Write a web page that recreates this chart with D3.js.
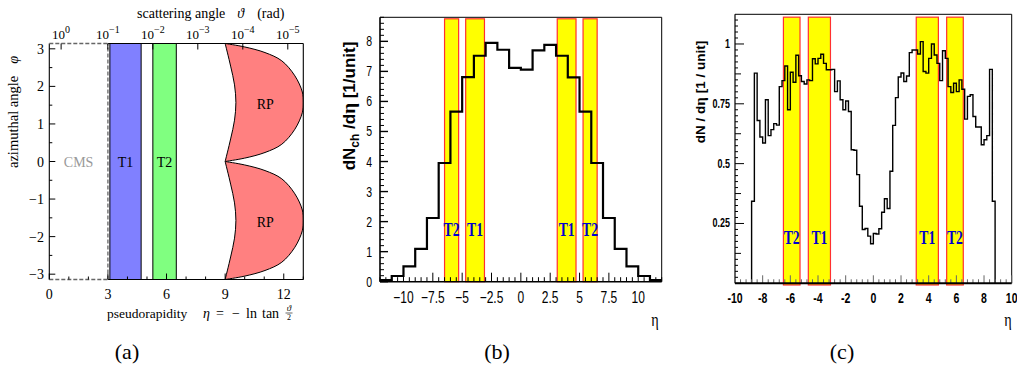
<!DOCTYPE html>
<html><head><meta charset="utf-8">
<script src="https://cdn.jsdelivr.net/npm/d3@7"></script>
<style>body{margin:0;background:#fff}svg{display:block}</style>
</head><body>
<svg id="fig" width="1017" height="369"></svg>
<script>
// ================= DATA =================
// panel (a): detector acceptance
const detNames = ["CMS", "T1", "T2"];
const detEtaLo = [0, 3.1, 5.3];
const detEtaHi = [3, 4.7, 6.5];
const rpRightEta = [9.0, 10.0, 11.04, 11.9, 12.57, 12.95, 13.0, 12.95, 12.57, 11.9, 11.04, 10.0, 9.0];
const rpRightPhi = [3.1416, 3.05, 2.9, 2.68, 2.28, 1.85, 1.57, 1.3, 0.86, 0.46, 0.24, 0.09, 0];
const rpLeftEta = [9.0, 9.28, 9.48, 9.55, 9.48, 9.28, 9.0];
const rpLeftPhi = [0, 0.6, 1.1, 1.57, 2.04, 2.54, 3.1416];
const thetaTicks = [1, 0.1, 0.01, 0.001, 0.0001, 0.00001];
const thetaTickExp = ["0", "−1", "−2", "−3", "−4", "−5"];
const etaTicksA = [0, 3, 6, 9, 12];
const phiTicksA = [-3, -2, -1, 0, 1, 2, 3];

// panels (b),(c): T1/T2 bands
const bandLabels = ["T2", "T1", "T1", "T2"];
const bandLo = [-6.5, -4.7, 3.1, 5.3];
const bandHi = [-5.3, -3.1, 4.7, 6.5];

// panel (b): dNch/deta, unit bins from -12
const binStartB = -12, binWidthB = 1;
const dNdEtaB = [0.05, 0.19, 0.51, 1.09, 2.12, 3.95, 5.66, 6.81, 7.52, 7.95, 7.72, 7.12,
                 7.06, 7.70, 7.88, 7.52, 6.80, 5.66, 3.95, 2.12, 1.09, 0.51, 0.19, 0.05];
const xTicksB = [-10, -7.5, -5, -2.5, 0, 2.5, 5, 7.5, 10];
const yTicksB = [0, 1, 2, 3, 4, 5, 6, 7, 8];

// panel (c): dN/deta, 0.2 bins from -8.8
const binStartC = -8.8, binWidthC = 0.2;
const dNdEtaC = [
  0.343, 0.878, 0.68, 0.611, 0.586, 0.767, 0.617, 0.642, 0.667, 0.661,
  0.822, 0.847, 0.908, 0.725, 0.882, 0.840, 0.953, 0.867, 0.843, 0.833,
  0.85, 0.847, 0.938, 0.917, 0.940, 0.957, 0.919, 0.892, 0.892, 0.894,
  0.801, 0.846, 0.767, 0.725, 0.762, 0.718, 0.558, 0.556, 0.454, 0.322,
  0.225, 0.229, 0.197, 0.165,
  0.208, 0.206, 0.228, 0.297, 0.353, 0.3125, 0.468, 0.66, 0.776, 0.862,
  0.879, 0.843, 0.866, 0.964, 0.975, 0.975, 0.958, 1.010, 0.885, 0.878,
  0.94, 1.0, 0.954, 0.919, 0.847, 0.972, 0.94, 0.822, 0.797, 0.836,
  0.801, 0.85, 0.811, 0.686, 0.781, 0.788, 0.697, 0.653, 0.653, 0.579,
  0.60, 0.617, 0.894, 0.343];
const xTicksC = [-10, -8, -6, -4, -2, 0, 2, 4, 6, 8, 10];
const yTicksC = [0.25, 0.5, 0.75, 1];
const yTickLabelsC = ["0.25", "0.5", "0.75", "1"];

const captions = ["(a)", "(b)", "(c)"];

// ================= DRAW =================
const svg = d3.select("#fig");
const SERIF = "'Liberation Serif', 'DejaVu Serif', serif";
const SANS = "'Liberation Sans', Arial, sans-serif";

function txt(g, x, y, s, o = {}) {
  const t = g.append("text")
    .attr("transform", `translate(${x},${y}) rotate(${o.rot || 0}) scale(${o.sx || 1},1)`)
    .attr("text-anchor", o.anchor || "middle")
    .attr("font-family", o.font || SERIF)
    .attr("font-size", o.size || 14)
    .attr("font-weight", o.weight || "normal")
    .attr("font-style", o.style || "normal")
    .attr("fill", o.fill || "#000");
  if (typeof s === "string") t.text(s); else s(t);
  return t;
}
function hline(g, x1, x2, y, w = 1, c = "#000", dash = null) {
  const l = g.append("line").attr("x1", x1).attr("x2", x2).attr("y1", y).attr("y2", y)
    .attr("stroke", c).attr("stroke-width", w);
  if (dash) l.attr("stroke-dasharray", dash);
  return l;
}
function vline(g, x, y1, y2, w = 1, c = "#000", dash = null) {
  const l = g.append("line").attr("x1", x).attr("x2", x).attr("y1", y1).attr("y2", y2)
    .attr("stroke", c).attr("stroke-width", w);
  if (dash) l.attr("stroke-dasharray", dash);
  return l;
}

// ---------- panel (a) ----------
{
  const xA = d3.scaleLinear().domain([0, 13]).range([49.3, 303.3]);
  const yA = d3.scaleLinear().domain([-Math.PI, Math.PI]).range([279.5, 43.5]);
  const g = svg.append("g");
  const detFill = [null, "#8080ff", "#80ff80"];
  const [x0, x1] = xA.range(), [y0, y1] = yA.range();

  svg.append("defs").append("clipPath").attr("id", "clipA").append("rect")
    .attr("x", x0).attr("y", y1).attr("width", x1 - x0).attr("height", y0 - y1);

  detNames.forEach((n, i) => {
    if (i === 0) return;
    g.append("rect").attr("x", xA(detEtaLo[i])).attr("y", yA(Math.PI))
      .attr("width", xA(detEtaHi[i]) - xA(detEtaLo[i]))
      .attr("height", yA(-Math.PI) - yA(Math.PI))
      .attr("fill", detFill[i]).attr("stroke", "#000").attr("stroke-width", 1);
  });

  const line = d3.line().x(d => xA(d[0])).y(d => yA(d[1])).curve(d3.curveCatmullRom.alpha(0.5));
  [0, -Math.PI].forEach(off => {
    const r = rpRightEta.map((e, i) => [e, rpRightPhi[i] + off]);
    const l = rpLeftEta.map((e, i) => [e, rpLeftPhi[i] + off]);
    const d = line(r) + line(l).replace(/^M/, "L") + "Z";
    g.append("path").attr("d", d).attr("fill", "#ff8080").attr("stroke", "#000")
      .attr("stroke-width", 1).attr("clip-path", "url(#clipA)");
  });

  // frame
  vline(g, x0, y0, y1, 1.1);
  vline(g, x1, y0, y1, 1.1);
  hline(g, xA(detEtaHi[0]), x1, y1, 1.1);
  hline(g, xA(detEtaHi[0]), x1, y0, 1.1);
  // CMS dashed
  hline(g, x0, xA(detEtaHi[0]), y1, 1.3, "#666", "4,2");
  hline(g, x0, xA(detEtaHi[0]), y0, 1.3, "#666", "4,2");
  vline(g, xA(detEtaHi[0]), y0, y1, 1.3, "#666", "4,2");

  // ticks
  d3.range(-3, 3.01, 0.5).forEach(v => {
    const major = Math.abs(v - Math.round(v)) < 1e-6;
    hline(g, x0, x0 + (major ? 6 : 3), yA(v), 1);
  });
  d3.range(0, 13.01, 1).forEach(v => {
    const major = v % 3 === 0;
    vline(g, xA(v), y0, y0 - (major ? 6 : 3), 1);
  });
  thetaTicks.forEach(t => {
    const eta = -Math.log(Math.tan(t / 2));
    vline(g, xA(eta), y1, y1 + 6, 1);
  });

  // tick labels
  phiTicksA.forEach(v => txt(g, 44, yA(v) + 5, (v < 0 ? "−" : "") + Math.abs(v), {anchor: "end", size: 14}));
  etaTicksA.forEach(v => txt(g, xA(v), 299, String(v), {size: 14}));
  thetaTicks.forEach((t, i) => {
    const eta = -Math.log(Math.tan(t / 2));
    txt(g, xA(eta), 39, tt => {
      tt.append("tspan").text("10");
      tt.append("tspan").attr("dy", -6).attr("font-size", 10).text(thetaTickExp[i]);
    }, {size: 13});
  });

  // labels inside
  txt(g, xA(1.5) , 167, "CMS", {fill: "#999", size: 14});
  txt(g, xA((detEtaLo[1] + detEtaHi[1]) / 2), 167, "T1", {size: 14});
  txt(g, xA((detEtaLo[2] + detEtaHi[2]) / 2), 167, "T2", {size: 14});
  txt(g, xA(11.05), yA(Math.PI / 2) + 6, "RP", {size: 14});
  txt(g, xA(11.05), yA(-Math.PI / 2) + 6, "RP", {size: 14});

  // axis titles
  txt(g, 137, 18, tt => {
    tt.append("tspan").text("scattering angle");
    tt.append("tspan").attr("dx", 12).attr("font-style", "italic").text("ϑ");
    tt.append("tspan").attr("dx", 13).text("(rad)");
  }, {anchor: "start", size: 14});
  txt(g, 18, 168, tt => {
    tt.append("tspan").text("azimuthal angle");
    tt.append("tspan").attr("dx", 12).attr("font-style", "italic").text("φ");
  }, {anchor: "start", size: 14.5, rot: -90});
  txt(g, 107, 318, "pseudorapidity", {anchor: "start", size: 13.5});
  txt(g, 203, 318, "η", {anchor: "start", size: 14, style: "italic"});
  txt(g, 216, 318, "=", {anchor: "start", size: 14});
  txt(g, 232, 318, "−", {anchor: "start", size: 14});
  txt(g, 246, 318, "ln", {anchor: "start", size: 14});
  txt(g, 262, 318, "tan", {anchor: "start", size: 14});
  const fx = 289;
  txt(g, fx, 311, "ϑ", {size: 9, style: "italic"});
  hline(g, fx - 3.5, fx + 3.5, 313, 0.6);
  txt(g, fx, 320, "2", {size: 8});
}

// ---------- panel (b) ----------
{
  const xB = d3.scaleLinear().domain([-12, 12]).range([380, 661.7]);
  const yB = d3.scaleLinear().domain([0, 8.8]).range([281.7, 17.3]);
  const g = svg.append("g");
  const [x0, x1] = xB.range(), [y0, y1] = yB.range();

  bandLo.forEach((lo, i) => {
    g.append("rect").attr("x", xB(lo)).attr("y", yB(8.75))
      .attr("width", xB(bandHi[i]) - xB(lo)).attr("height", yB(0) - yB(8.75))
      .attr("fill", "#ffff00").attr("stroke", "#ff3030").attr("stroke-width", 1.2);
  });

  const pts = [];
  dNdEtaB.forEach((v, i) => {
    const e = binStartB + i * binWidthB;
    pts.push([e, v], [e + binWidthB, v]);
  });
  g.append("path").attr("d", d3.line().x(d => xB(d[0])).y(d => yB(d[1]))(pts))
    .attr("fill", "none").attr("stroke", "#000").attr("stroke-width", 2.2);

  bandLo.forEach((lo, i) => {
    txt(g, xB((lo + bandHi[i]) / 2), 236, bandLabels[i],
      {font: SERIF, weight: "bold", size: 19, sx: 0.72, fill: "#0000d0"});
  });

  // frame
  hline(g, x0, x1, y1, 1);
  vline(g, x1, y0, y1, 1);
  vline(g, x0, y0, y1, 1.6);
  hline(g, x0, x1, y0, 1.6);

  d3.range(-12, 12.01, 0.5).forEach(v => {
    const major = Math.abs(v / 2.5 - Math.round(v / 2.5)) < 1e-6;
    vline(g, xB(v), y0, y0 - (major ? 9 : 4.5), 1);
  });
  d3.range(0, 8.81, 0.2).forEach(v => {
    const major = Math.abs(v - Math.round(v)) < 1e-6;
    hline(g, x0, x0 + (major ? 8 : 4), yB(v), major ? 1.4 : 1);
  });

  xTicksB.forEach(v => txt(g, xB(v), 303, (v < 0 ? "−" : "") + Math.abs(v),
    {font: SANS, size: 16, sx: 0.75}));
  yTicksB.forEach(v => txt(g, 372, yB(v) + 5, String(v),
    {font: SANS, size: 14, sx: 0.75, anchor: "end"}));

  txt(g, 355, 106, tt => {
    tt.append("tspan").text("dN");
    tt.append("tspan").attr("dy", 4).attr("font-size", 12).text("ch");
    tt.append("tspan").attr("dy", -4).text(" /d");
    tt.append("tspan").attr("font-family", SERIF).attr("font-size", 19).text("η");
    tt.append("tspan").text("   [1/unit]");
  }, {font: SANS, weight: "bold", size: 17, rot: -90});
  txt(g, 655, 326, "η", {font: SERIF, size: 19, sx: 0.75});
}

// ---------- panel (c) ----------
{
  const xC = d3.scaleLinear().domain([-10, 10]).range([735, 1011.7]);
  const yC = d3.scaleLinear().domain([0, 1.124]).range([283.3, 14.3]);
  const g = svg.append("g");
  const [x0, x1] = xC.range(), [y0, y1] = yC.range();

  bandLo.forEach((lo, i) => {
    g.append("rect").attr("x", xC(lo)).attr("y", yC(1.112))
      .attr("width", xC(bandHi[i]) - xC(lo)).attr("height", yC(-0.007) - yC(1.112))
      .attr("fill", "#ffff00").attr("stroke", "#ff3030").attr("stroke-width", 1.2);
  });

  const pts = [[binStartC, 0]];
  dNdEtaC.forEach((v, i) => {
    const e = binStartC + i * binWidthC;
    pts.push([e, v], [e + binWidthC, v]);
  });
  pts.push([binStartC + dNdEtaC.length * binWidthC, 0]);
  g.append("path").attr("d", d3.line().x(d => xC(d[0])).y(d => yC(d[1]))(pts))
    .attr("fill", "none").attr("stroke", "#000").attr("stroke-width", 1.4);

  bandLo.forEach((lo, i) => {
    txt(g, xC((lo + bandHi[i]) / 2), 244, bandLabels[i],
      {font: SERIF, weight: "bold", size: 19, sx: 0.72, fill: "#0000d0"});
  });

  hline(g, x0, x1, y1, 1);
  vline(g, x1, y0, y1, 1);
  vline(g, x0, y0, y1, 1.2);

  d3.range(-10, 10.01, 0.4).forEach(v => {
    const major = Math.abs(v / 2 - Math.round(v / 2)) < 1e-6;
    vline(g, xC(v), y0, y0 - (major ? 8 : 4), 1, "#666");
  });
  d3.range(0, 1.121, 0.025).forEach(v => {
    const k = Math.round(v / 0.025);
    const len = k % 10 === 0 ? 9 : (k % 5 === 0 ? 6 : 3);
    hline(g, x0, x0 + len, yC(v), 1);
  });
  hline(g, x0, x1, y0, 2);

  xTicksC.forEach(v => txt(g, xC(v), 303, String(v), {font: SANS, weight: "bold", size: 14, sx: 0.75}));
  yTicksC.forEach((v, i) => txt(g, 730, yC(v) + 4, yTickLabelsC[i],
    {font: SANS, weight: "bold", size: 12, sx: 0.75, anchor: "end"}));

  txt(g, 705, 92, tt => {
    tt.append("tspan").text("dN / d");
    tt.append("tspan").attr("font-family", SERIF).attr("font-size", 15).text("η");
    tt.append("tspan").text("  [1 / unit]");
  }, {font: SANS, weight: "bold", size: 13.5, rot: -90});
  txt(g, 1008, 326, "η", {font: SERIF, size: 19, sx: 0.75});
}

// captions
[127, 497, 842].forEach((x, i) => txt(svg, x, 359, captions[i], {font: SERIF, size: 22}));
</script>
</body></html>
